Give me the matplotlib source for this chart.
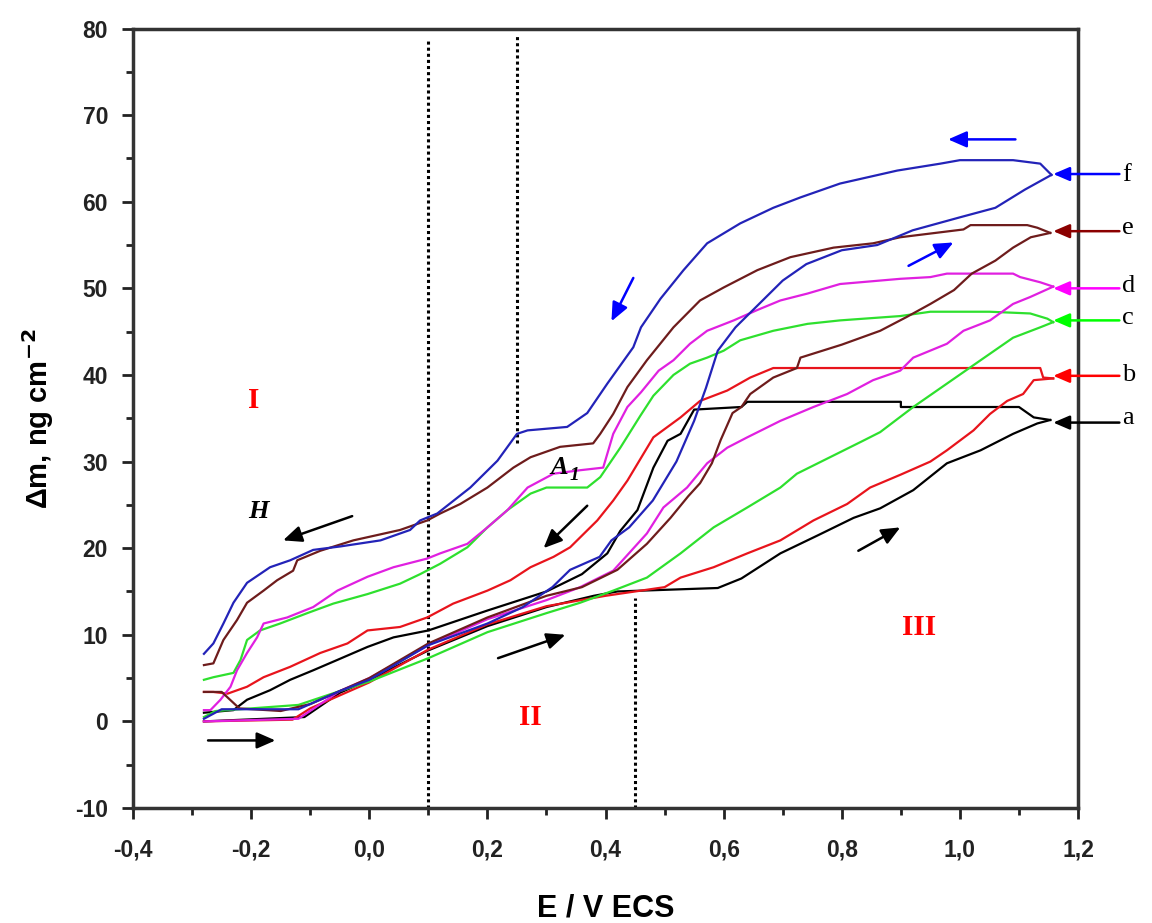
import matplotlib
matplotlib.use("Agg")
import matplotlib.pyplot as plt
from matplotlib.ticker import MultipleLocator, FuncFormatter

# ---------------- data (E / V, delta m / ng cm-2) ----------------
a_forward = [(-0.28, 0.0), (-0.11, 0.5), (-0.05, 3.3), (0.0, 4.8), (0.1, 8.2), (0.2, 11.0),
             (0.3, 13.2), (0.38, 14.5), (0.42, 15.0), (0.59, 15.4), (0.63, 16.5), (0.696, 19.4),
             (0.76, 21.5), (0.82, 23.5), (0.865, 24.6), (0.921, 26.7), (0.978, 29.8),
             (1.035, 31.3), (1.09, 33.2), (1.131, 34.4), (1.153, 34.8)]
a_reverse = [(1.153, 34.8), (1.125, 35.1), (1.10, 36.3), (0.9, 36.3), (0.9, 36.9), (0.64, 36.9),
             (0.63, 36.3), (0.55, 36.0), (0.527, 33.2), (0.505, 32.4), (0.481, 29.3),
             (0.454, 24.4), (0.425, 22.0), (0.403, 19.4), (0.36, 17.0), (0.3, 15.0), (0.2, 12.8),
             (0.1, 10.5), (0.041, 9.7), (-0.003, 8.6), (-0.054, 7.1), (-0.095, 5.9),
             (-0.134, 4.8), (-0.168, 3.6), (-0.207, 2.5), (-0.23, 1.3), (-0.28, 1.0)]

b_forward = [(-0.28, 0.0), (-0.13, 0.2), (-0.1, 1.5), (0.0, 4.5), (0.1, 8.3), (0.2, 11.2),
             (0.3, 13.3), (0.4, 14.5), (0.45, 15.0), (0.5, 15.5), (0.527, 16.6), (0.583, 17.8),
             (0.64, 19.4), (0.696, 20.9), (0.752, 23.2), (0.809, 25.1), (0.848, 27.0),
             (0.9, 28.5), (0.95, 30.0), (0.978, 31.3), (1.023, 33.6), (1.051, 35.5),
             (1.08, 37.0), (1.107, 37.8), (1.125, 39.4), (1.158, 39.6)]
b_reverse = [(1.158, 39.6), (1.141, 39.7), (1.136, 40.8), (0.684, 40.8), (0.645, 39.7),
             (0.606, 38.2), (0.56, 37.0), (0.527, 35.1), (0.505, 34.0), (0.481, 32.8),
             (0.459, 30.3), (0.437, 27.8), (0.413, 25.5), (0.386, 23.2), (0.34, 20.1),
             (0.312, 19.0), (0.273, 17.8), (0.239, 16.3), (0.2, 15.1), (0.142, 13.6),
             (0.098, 12.0), (0.052, 10.9), (-0.003, 10.5), (-0.037, 9.0), (-0.083, 7.9),
             (-0.134, 6.3), (-0.179, 5.1), (-0.207, 4.0), (-0.24, 3.2), (-0.264, 3.4),
             (-0.28, 3.4)]

c_forward = [(-0.28, 0.5), (-0.26, 1.2), (-0.12, 1.9), (-0.05, 3.5), (0.0, 4.6), (0.1, 7.3),
             (0.2, 10.3), (0.3, 12.5), (0.357, 13.7), (0.413, 15.1), (0.47, 16.6),
             (0.527, 19.4), (0.583, 22.4), (0.64, 24.7), (0.696, 27.0), (0.724, 28.6),
             (0.78, 30.5), (0.836, 32.4), (0.865, 33.4), (0.921, 36.3), (0.978, 39.0),
             (1.035, 41.7), (1.09, 44.3), (1.136, 45.5), (1.158, 46.1)]
c_reverse = [(1.158, 46.1), (1.148, 46.5), (1.119, 47.1), (1.05, 47.3), (0.95, 47.3),
             (0.899, 46.8), (0.797, 46.3), (0.742, 45.9), (0.684, 45.1), (0.628, 44.0),
             (0.6, 42.8), (0.572, 42.0), (0.543, 41.3), (0.515, 40.0), (0.481, 37.6),
             (0.459, 35.3), (0.425, 31.6), (0.391, 28.2), (0.369, 27.0), (0.3, 27.0),
             (0.273, 26.3), (0.234, 24.4), (0.2, 22.4), (0.166, 20.1), (0.12, 18.2),
             (0.086, 17.0), (0.052, 15.9), (-0.003, 14.7), (-0.061, 13.6), (-0.105, 12.5),
             (-0.151, 11.3), (-0.185, 10.5), (-0.207, 9.4), (-0.218, 7.1), (-0.23, 5.6),
             (-0.264, 5.1), (-0.28, 4.8)]

d_forward = [(-0.28, 0.0), (-0.12, 0.3), (-0.05, 3.5), (0.0, 5.0), (0.1, 8.8), (0.2, 11.8),
             (0.3, 14.0), (0.357, 15.5), (0.413, 17.4), (0.47, 21.7), (0.498, 24.7),
             (0.538, 27.0), (0.572, 29.8), (0.606, 31.6), (0.64, 32.8), (0.696, 34.7),
             (0.752, 36.3), (0.809, 37.8), (0.853, 39.4), (0.899, 40.5), (0.921, 42.0),
             (0.978, 43.6), (1.006, 45.1), (1.051, 46.3), (1.09, 48.2), (1.119, 49.0),
             (1.158, 50.2)]
d_reverse = [(1.158, 50.2), (1.136, 50.7), (1.102, 51.3), (1.09, 51.7), (0.978, 51.7),
             (0.95, 51.3), (0.899, 51.1), (0.797, 50.5), (0.742, 49.4), (0.696, 48.6),
             (0.657, 47.5), (0.617, 46.3), (0.572, 45.1), (0.543, 43.6), (0.515, 41.7),
             (0.49, 40.5), (0.46, 38.0), (0.437, 36.3), (0.413, 33.2), (0.396, 29.3),
             (0.357, 29.0), (0.312, 28.6), (0.268, 27.0), (0.234, 24.4), (0.2, 22.4),
             (0.166, 20.5), (0.12, 19.4), (0.098, 18.8), (0.041, 17.8), (-0.003, 16.7),
             (-0.054, 15.1), (-0.095, 13.2), (-0.139, 12.0), (-0.179, 11.3), (-0.19, 9.7),
             (-0.207, 7.9), (-0.224, 5.9), (-0.235, 4.0), (-0.252, 2.5), (-0.269, 1.3),
             (-0.28, 1.3)]

e_forward = [(-0.28, 3.4), (-0.25, 3.4), (-0.22, 1.5), (-0.15, 1.2), (-0.1, 2.0), (0.0, 5.0),
             (0.1, 9.0), (0.2, 12.0), (0.3, 14.5), (0.36, 15.5), (0.42, 17.5), (0.47, 20.5),
             (0.51, 23.5), (0.54, 26.0), (0.56, 27.5), (0.58, 29.8), (0.595, 32.5),
             (0.615, 35.6), (0.63, 36.3), (0.645, 37.8), (0.684, 39.7), (0.724, 40.8),
             (0.73, 42.0), (0.80, 43.5), (0.865, 45.1), (0.91, 46.7), (0.95, 48.2),
             (0.99, 49.8), (1.02, 51.7), (1.06, 53.2), (1.09, 54.7), (1.12, 55.9), (1.153, 56.4)]
e_reverse = [(1.153, 56.4), (1.131, 57.0), (1.114, 57.3), (1.018, 57.3), (1.006, 56.8),
             (0.899, 55.9), (0.853, 55.2), (0.786, 54.7), (0.713, 53.6), (0.657, 52.1),
             (0.60, 50.1), (0.56, 48.6), (0.515, 45.5), (0.47, 41.7), (0.437, 38.6),
             (0.413, 35.5), (0.391, 33.2), (0.379, 32.1), (0.323, 31.7), (0.273, 30.5),
             (0.244, 29.3), (0.2, 27.0), (0.154, 25.1), (0.12, 24.0), (0.098, 23.2),
             (0.052, 22.1), (-0.027, 20.9), (-0.083, 19.7), (-0.122, 18.6), (-0.129, 17.4),
             (-0.156, 16.3), (-0.179, 15.1), (-0.207, 13.7), (-0.224, 11.7), (-0.247, 9.4),
             (-0.264, 6.7), (-0.28, 6.5)]

f_forward = [(-0.28, 0.3), (-0.25, 1.4), (-0.12, 1.4), (-0.05, 3.5), (0.0, 4.8), (0.1, 8.8),
             (0.2, 11.3), (0.26, 13.2), (0.31, 15.5), (0.34, 17.5), (0.39, 19.0), (0.41, 20.9),
             (0.44, 22.4), (0.48, 25.5), (0.52, 30.0), (0.55, 34.7), (0.57, 38.5), (0.59, 42.8),
             (0.62, 45.5), (0.66, 48.2), (0.70, 50.9), (0.74, 52.8), (0.80, 54.4), (0.86, 55.0),
             (0.92, 56.7), (1.0, 58.2), (1.06, 59.3), (1.11, 61.4), (1.155, 63.1)]
f_reverse = [(1.155, 63.1), (1.136, 64.4), (1.09, 64.8), (1.0, 64.8), (0.967, 64.4),
             (0.894, 63.6), (0.797, 62.1), (0.73, 60.5), (0.684, 59.3), (0.628, 57.5),
             (0.572, 55.2), (0.532, 52.1), (0.493, 48.8), (0.46, 45.5), (0.447, 43.2),
             (0.403, 39.0), (0.369, 35.6), (0.335, 34.0), (0.268, 33.6), (0.25, 33.2),
             (0.217, 30.1), (0.171, 27.0), (0.115, 24.0), (0.086, 23.2), (0.069, 22.1),
             (0.019, 20.9), (-0.049, 20.2), (-0.095, 19.8), (-0.134, 18.6), (-0.168, 17.8),
             (-0.207, 16.0), (-0.23, 13.7), (-0.247, 11.3), (-0.264, 9.0), (-0.28, 7.8)]

curve_names = ["a", "b", "c", "d", "e", "f"]
curve_end_m = [34.5, 39.9, 46.3, 50.0, 56.6, 63.2]   # where the label arrows point
label_text_m = [35.0, 40.0, 46.6, 50.3, 57.0, 63.1]
line_colors = ["#000000", "#e8141c", "#2ee02e", "#e020e0", "#6e1c1c", "#2323b8"]
arrow_colors = ["#000000", "#ff0000", "#00ff00", "#ff00ff", "#8b0000", "#0000ff"]

divider_E = [0.1, 0.25, 0.45]
divider_top = [78.9, 79.4, 14.2]
divider_bottom = [-10, 32.2, -10]

x_ticks = [-0.4, -0.2, 0.0, 0.2, 0.4, 0.6, 0.8, 1.0, 1.2]
y_ticks = [-10, 0, 10, 20, 30, 40, 50, 60, 70, 80]

# ---------------- figure ----------------
plt.rcParams['font.family'] = ['Liberation Sans', 'DejaVu Sans']
plt.rcParams['mathtext.default'] = 'bf'
fig = plt.figure(figsize=(11.52, 9.23), dpi=100)
ax = fig.add_axes([0.1155, 0.1246, 0.8203, 0.8445])

branches = {
    "a": (a_forward, a_reverse), "b": (b_forward, b_reverse), "c": (c_forward, c_reverse),
    "d": (d_forward, d_reverse), "e": (e_forward, e_reverse), "f": (f_forward, f_reverse),
}
for name, col in zip(curve_names, line_colors):
    for br in branches[name]:
        ax.plot([p[0] for p in br], [p[1] for p in br], color=col, lw=1.6, zorder=3)

for xE, yt, yb in zip(divider_E, divider_top, divider_bottom):
    ax.plot([xE, xE], [yb, yt], color="black", lw=2.2, linestyle=(0, (1.0, 1.0)), zorder=2)

ax.set_xlim(-0.4, 1.2)
ax.set_ylim(-10, 80)
ax.set_xticks(x_ticks)
ax.set_yticks(y_ticks)
ax.xaxis.set_minor_locator(MultipleLocator(0.1))
ax.yaxis.set_minor_locator(MultipleLocator(5))
ax.xaxis.set_major_formatter(FuncFormatter(lambda v, p: f"{v:.1f}".replace(".", ",").replace("-0,0", "0,0")))
ax.yaxis.set_major_formatter(FuncFormatter(lambda v, p: f"{int(round(v))}"))
ax.tick_params(which="major", direction="out", length=8, width=2, labelsize=16.5, colors="#222222")
ax.tick_params(axis="x", which="major", pad=14)
ax.tick_params(axis="y", which="major", pad=10)
ax.tick_params(which="minor", direction="out", length=5, width=2, colors="#222222")
ax.tick_params(top=False, right=False, which="both")
for lab in ax.get_xticklabels() + ax.get_yticklabels():
    lab.set_fontweight("bold")
for sp in ax.spines.values():
    sp.set_linewidth(2.5)
    sp.set_color("#333333")

ax.set_xlabel("E / V ECS", fontsize=22, fontweight="bold", va="center")
ax.xaxis.set_label_coords(0.5, -0.1295)
ax.set_ylabel("Δm, ng cm$^{-2}$", fontsize=21, fontweight="bold", labelpad=14)

# region labels
serif = ['Liberation Serif', 'DejaVu Serif']
for txt, xE, ym in [("I", -0.196, 37.1), ("II", 0.273, 0.4), ("III", 0.93, 10.8)]:
    ax.text(xE, ym, txt, color="#ff0000", fontsize=21, fontweight="bold", family=serif,
            ha="center", va="center")
ax.text(-0.188, 24.2, "H", fontsize=19, fontweight="bold", style="italic", family=serif,
        ha="center", va="center")
ax.text(0.322, 29.3, "A", fontsize=19, fontweight="bold", style="italic", family=serif,
        ha="center", va="center")
ax.text(0.347, 28.4, "1", fontsize=14, fontweight="bold", style="italic", family=serif,
        ha="center", va="center")

def arrow(x0, y0, x1, y1, col):
    ax.annotate("", xy=(x1, y1), xytext=(x0, y0),
                arrowprops=dict(arrowstyle="-|>,head_length=0.8,head_width=0.35", lw=1.8,
                                color=col, shrinkA=0, shrinkB=0, mutation_scale=14))

arrow(-0.029, 23.7, -0.146, 20.9, "black")
arrow(-0.273, -2.2, -0.159, -2.2, "black")
arrow(0.218, 7.3, 0.332, 10.0, "black")
arrow(0.369, 24.9, 0.295, 20.0, "black")
arrow(0.828, 19.7, 0.899, 22.4, "black")
arrow(1.094, 67.2, 0.980, 67.2, "#0000ff")
arrow(0.447, 51.2, 0.410, 46.2, "#0000ff")
arrow(0.913, 52.6, 0.989, 55.3, "#0000ff")

# curve labels outside the right spine
for name, ym, yt, col in zip(curve_names, curve_end_m, label_text_m, arrow_colors):
    ax.annotate("", xy=(1.158, ym), xytext=(1.27, ym), annotation_clip=False,
                arrowprops=dict(arrowstyle="-|>,head_length=0.7,head_width=0.3", lw=1.8,
                                color=col, shrinkA=0, shrinkB=0, mutation_scale=14))
    ax.text(1.275, yt, name, fontsize=19, family=serif, ha="left", va="center", clip_on=False)

fig.savefig("out.png", dpi=100)
